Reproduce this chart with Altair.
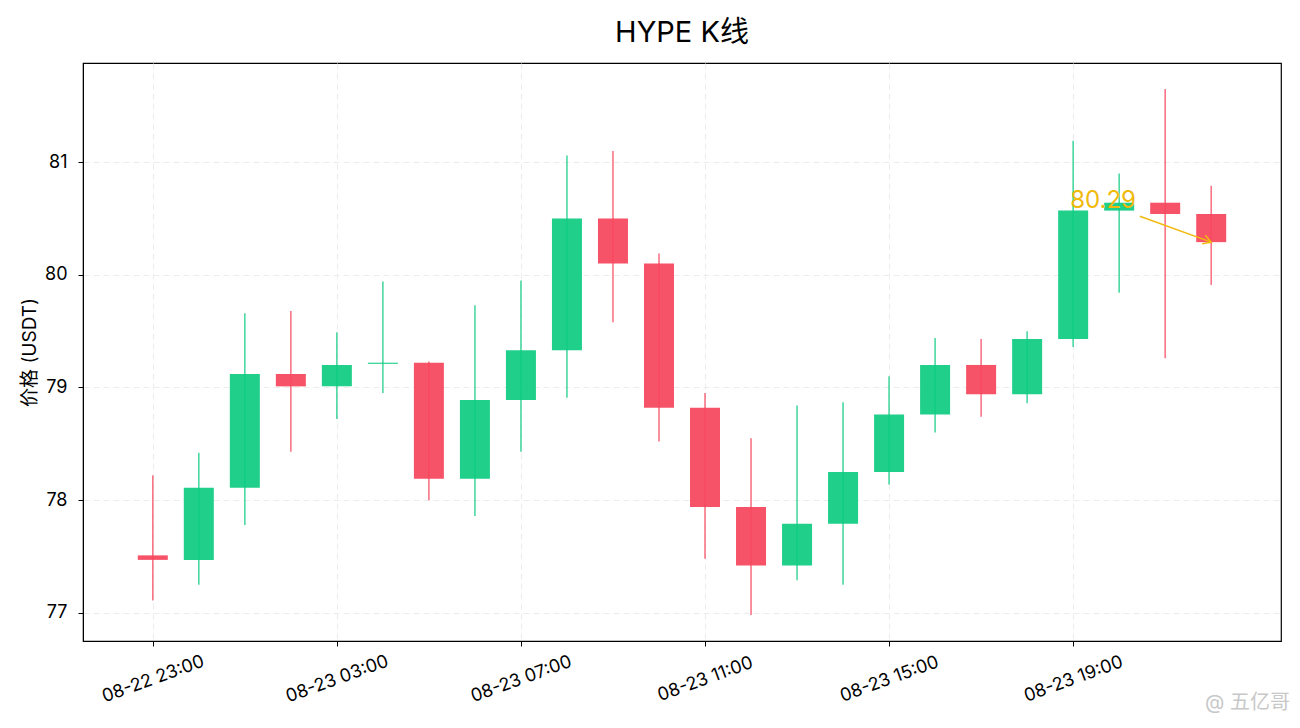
import pandas as pd
import altair as alt

# 小时K线数据, 从 08-22 23:00 开始
times = pd.date_range("2025-08-22 23:00", periods=24, freq="h", tz="UTC")
opens = [77.51, 77.47, 78.11, 79.12, 79.01, 79.21, 79.22, 78.19, 78.89, 79.33, 80.50, 80.10,
         78.82, 77.94, 77.42, 77.79, 78.25, 78.76, 79.20, 78.94, 79.43, 80.57, 80.64, 80.54]
closes = [77.47, 78.11, 79.12, 79.01, 79.20, 79.22, 78.19, 78.89, 79.33, 80.50, 80.10, 78.82,
          77.94, 77.42, 77.79, 78.25, 78.76, 79.20, 78.94, 79.43, 80.57, 80.64, 80.54, 80.29]
highs = [78.22, 78.42, 79.66, 79.68, 79.49, 79.94, 79.23, 79.73, 79.95, 81.06, 81.10, 80.19,
         78.95, 78.55, 78.84, 78.87, 79.10, 79.44, 79.43, 79.50, 81.19, 80.90, 81.65, 80.79]
lows = [77.11, 77.25, 77.78, 78.43, 78.72, 78.95, 78.00, 77.86, 78.43, 78.91, 79.58, 78.52,
        77.48, 76.98, 77.29, 77.25, 78.14, 78.60, 78.74, 78.86, 79.36, 79.84, 79.26, 79.91]

tick_times = ["2025-08-22 23:00", "2025-08-23 03:00", "2025-08-23 07:00",
              "2025-08-23 11:00", "2025-08-23 15:00", "2025-08-23 19:00"]
y_ticks = [77, 78, 79, 80, 81]

GREEN = "#0ecb81"
RED = "#f6465d"
GOLD = "#f0b90b"
FONT = "Inter, Noto Sans CJK SC"


def ms(t):
    return int(pd.Timestamp(t, tz="UTC").timestamp() * 1000)


df = pd.DataFrame({
    "time": times.strftime("%Y-%m-%dT%H:%M:%SZ"),
    "open": opens,
    "close": closes,
    "high": highs,
    "low": lows,
})
df["dir"] = ["up" if c >= o else "down" for o, c in zip(opens, closes)]

x_domain = [ms("2025-08-22 21:29"), ms("2025-08-23 23:31")]

x = alt.X(
    "time:T",
    scale=alt.Scale(type="utc", domain=x_domain, padding=0),
    axis=alt.Axis(values=[ms(t) for t in tick_times], format="%m-%d %H:%M",
                  labelAngle=-20, labelAlign="center", labelBaseline="middle",
                  labelPadding=33, labelOverlap=False, labelBound=False),
    title=None,
)
color = alt.Color("dir:N", scale=alt.Scale(domain=["up", "down"], range=[GREEN, RED]), legend=None)

base = alt.Chart(df).encode(x=x)

wicks = base.mark_rule(strokeWidth=1.6, opacity=0.75).encode(
    y=alt.Y("low:Q", scale=alt.Scale(domain=[76.75, 81.88], nice=False, zero=False, padding=0),
            axis=alt.Axis(values=y_ticks, format="d", labelPadding=11, titlePadding=5),
            title="价格 (USDT)"),
    y2="high:Q",
    color=color,
)

bodies = base.mark_bar(size=30, opacity=0.93).encode(
    y="open:Q",
    y2="close:Q",
    color=color,
)

# 最新价格标注
last_close = closes[-1]
ann = pd.DataFrame({
    "t_text": ["2025-08-23T19:00:00Z"],
    "p_text": [last_close + 0.3],
    "label": [f"{last_close:.2f}"],
    "t0": ["2025-08-23T20:27:00Z"],
    "p0": [80.52],
    "t1": [df["time"].iloc[-1]],
    "p1": [last_close],
})

ann_text = alt.Chart(ann).mark_text(
    align="left", baseline="alphabetic", fontSize=24, color=GOLD, font=FONT, dx=-3
).encode(x="t_text:T", y="p_text:Q", text="label:N")

ann_line = alt.Chart(ann).mark_rule(color=GOLD, strokeWidth=1.5).encode(
    x="t0:T", y="p0:Q", x2="t1:T", y2="p1:Q"
)

ann_head = alt.Chart(ann).mark_point(
    shape="M -1.6 -0.9 L 0 0 L -1.6 0.9", filled=False, angle=20, size=100,
    strokeWidth=1.5, color=GOLD, opacity=1
).encode(x="t1:T", y="p1:Q")

watermark = alt.Chart(pd.DataFrame({"t": ["@ 五亿哥"]})).mark_text(
    align="right", baseline="middle", fontSize=20, color="#c8c8c8", font=FONT
).encode(text="t:N", x=alt.value(1207), y=alt.value(640))

chart = alt.layer(wicks, bodies, ann_line, ann_head, ann_text, watermark).properties(
    width=1198,
    height=578,
    title="HYPE K线",
    autosize=alt.AutoSizeParams(type="none"),
    padding={"left": 75, "top": 55, "right": 11, "bottom": 79},
).configure_axis(
    grid=True,
    gridColor="#ececec",
    gridDash=[6, 4],
    gridWidth=1,
    domainColor="black",
    tickColor="black",
    tickSize=5,
    labelColor="black",
    titleColor="black",
    labelFont=FONT,
    titleFont=FONT,
    labelFontSize=18,
    titleFontSize=19,
    titleFontWeight="normal",
).configure_view(
    stroke="black",
    strokeWidth=1.2,
).configure_title(
    font=FONT,
    fontSize=29,
    fontWeight="normal",
    color="black",
    anchor="middle",
    offset=15,
)

chart.save("out.html", embed_options={"renderer": "svg", "actions": False})
